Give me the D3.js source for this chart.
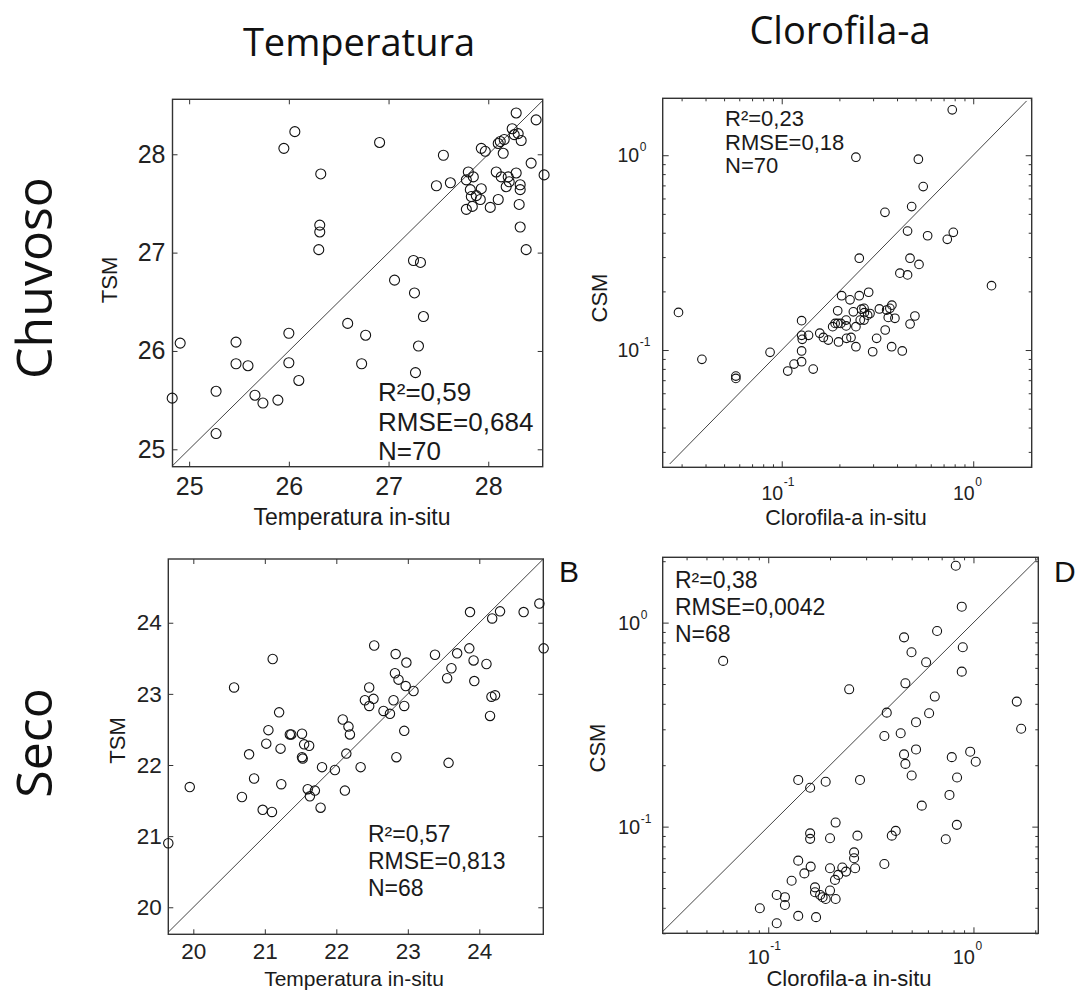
<!DOCTYPE html>
<html><head><meta charset="utf-8">
<script src="https://cdn.jsdelivr.net/npm/d3@7"></script>
<style>body{margin:0;background:#fff}svg{display:block}</style>
</head><body>
<svg id="chart" width="1079" height="992"></svg>
<script>
// ---------------- DATA ----------------
const columnTitles = ["Temperatura", "Clorofila-a"];
const rowTitles = ["Chuvoso", "Seco"];
const panelLetters = ["B", "D"];

// Chuvoso – Temperatura (in-situ vs TSM)
const chuvosoTempInsitu = [24.83,24.91,25.27,25.27,25.47,25.47,25.59,25.66,25.74,25.89,25.95,26.06,26.00,26.00,26.10,26.32,26.31,26.31,26.30,26.59,26.73,26.77,26.91,27.06,27.25,27.32,27.26,27.35,27.30,27.27,27.48,27.55,27.62,27.78,27.80,27.85,27.82,27.83,27.78,27.84,27.93,27.92,27.93,27.97,28.02,28.08,28.10,28.13,28.10,28.15,28.16,28.18,28.20,28.24,28.26,28.28,28.28,28.30,28.32,28.33,28.32,28.31,28.32,28.38,28.43,28.48,28.56,28.12,28.21,27.88];
const chuvosoTempTSM = [25.52,26.08,25.59,25.16,26.09,25.87,25.85,25.55,25.47,25.50,28.06,28.23,26.18,25.88,25.70,27.80,27.28,27.21,27.03,26.28,25.87,26.16,28.12,26.72,26.92,26.90,26.59,26.35,26.05,25.78,27.68,27.99,27.71,27.74,27.82,27.77,27.64,27.57,27.44,27.47,27.65,27.54,28.06,28.03,27.46,27.82,28.11,27.77,27.54,28.01,28.15,27.67,27.77,28.26,28.20,28.42,27.81,28.21,27.69,28.14,27.64,27.49,27.26,27.03,27.91,28.35,27.79,28.13,27.72,27.58];

// Chuvoso – Clorofila-a (in-situ vs CSM)
const chuvosoChlInsitu = [0.0289,0.0383,0.0576,0.0576,0.0869,0.1075,0.116,0.127,0.127,0.128,0.127,0.127,0.138,0.146,0.158,0.165,0.175,0.1845,0.196,0.196,0.198,0.2055,0.217,0.217,0.218,0.2273,0.230,0.2366,0.244,0.244,0.254,0.254,0.244,0.261,0.269,0.270,0.281,0.2844,0.289,0.2985,0.313,0.3235,0.346,0.347,0.353,0.360,0.367,0.375,0.376,0.390,0.414,0.426,0.454,0.454,0.4676,0.468,0.477,0.496,0.521,0.517,0.548,0.578,0.732,0.787,0.777,1.246,0.269,0.257,0.2035,0.190];
const chuvosoChlCSM = [0.156,0.0896,0.0735,0.0715,0.0973,0.078,0.0847,0.1415,0.119,0.1135,0.0989,0.0871,0.119,0.0798,0.122,0.116,0.1125,0.1318,0.159,0.137,0.110,0.190,0.1425,0.133,0.1148,0.181,0.116,0.157,0.1318,0.104,0.296,0.190,0.977,0.162,0.1425,0.1555,0.151,0.198,0.154,0.098,0.1148,0.1625,0.509,0.1267,0.1604,0.147,0.1637,0.104,0.170,0.1455,0.248,0.0989,0.408,0.243,0.296,0.136,0.545,0.1495,0.275,0.954,0.690,0.386,0.370,0.402,1.71,0.214,0.1637,0.1425,0.137,0.137];

// Seco – Temperatura
const secoTempInsitu = [19.65,19.95,20.57,20.68,20.78,20.85,20.97,21.10,21.02,21.05,21.11,21.20,21.22,21.23,21.35,21.37,21.52,21.55,21.62,21.52,21.53,21.60,21.63,21.70,21.78,21.80,21.98,22.09,22.17,22.19,22.14,22.12,22.34,22.40,22.46,22.46,22.52,22.53,22.66,22.75,22.80,22.82,22.83,22.87,22.84,22.95,22.95,22.97,22.98,23.08,23.38,23.55,23.57,23.61,23.69,23.86,23.87,23.92,23.93,24.10,24.15,24.17,24.22,24.18,24.29,24.62,24.84,24.90];
const secoTempTSM = [20.90,21.69,23.09,21.55,22.15,21.81,21.37,21.34,22.30,22.49,23.49,22.74,22.23,21.73,22.43,22.43,22.44,22.29,22.27,22.11,22.09,21.66,21.56,21.64,21.40,21.97,21.93,22.64,22.54,22.43,22.16,21.64,21.97,22.91,23.09,22.83,22.93,23.68,22.76,22.72,22.91,23.29,23.56,23.20,22.11,22.83,22.48,23.11,23.44,23.04,23.55,23.22,22.03,23.36,23.57,23.64,24.15,23.47,23.18,23.42,22.69,22.96,22.98,24.06,24.16,24.15,24.27,23.64];

// Seco – Clorofila-a
const secoChlInsitu = [0.0603,0.091,0.110,0.110,0.1206,0.1206,0.130,0.140,0.140,0.140,0.150,0.160,0.160,0.160,0.161,0.169,0.169,0.171,0.179,0.184,0.1905,0.1905,0.200,0.200,0.200,0.2115,0.213,0.213,0.2193,0.2296,0.2393,0.248,0.262,0.262,0.265,0.272,0.280,0.368,0.368,0.378,0.400,0.418,0.442,0.459,0.459,0.466,0.466,0.499,0.500,0.525,0.525,0.560,0.588,0.608,0.648,0.665,0.733,0.764,0.784,0.820,0.830,0.832,0.877,0.877,0.887,0.964,1.026,1.626,1.708];
const secoChlCSM = [0.649,0.0398,0.0462,0.0336,0.0451,0.0413,0.0543,0.1694,0.0681,0.0365,0.059,0.155,0.0927,0.0871,0.0637,0.0504,0.0477,0.036,0.0462,0.0451,0.166,0.0442,0.0625,0.0877,0.0486,0.0548,0.1047,0.0442,0.058,0.063,0.0602,0.471,0.0748,0.070,0.0625,0.0903,0.1694,0.0656,0.278,0.362,0.0903,0.0953,0.287,0.847,0.226,0.504,0.203,0.716,0.178,0.325,0.239,0.1267,0.639,0.3595,0.434,0.910,0.0867,0.143,0.219,1.90,0.102,0.174,1.197,0.575,0.757,0.233,0.208,0.410,0.302];

// Tick values
const tempTicksChuvoso = [25, 26, 27, 28];
const tempTicksSeco = [20, 21, 22, 23, 24];
const logMajorTicks = [0.1, 1];
const logTickExponents = ["-1", "0"];

// Axis domains
const domChuvosoTemp = [24.833, 28.546, 24.823, 28.559];
const domSecoTemp = [19.65, 24.895, 19.62, 24.896];
const domChuvosoChl = [0.0239, 2.02, 0.025, 1.96];
const domSecoChl = [0.0306, 2.07, 0.0300, 2.09];
const oneToOneChuvosoChl = [0.026, 1.9];

// Statistics text
const statsChuvosoTemp = ["R²=0,59", "RMSE=0,684", "N=70"];
const statsChuvosoChl = ["R²=0,23", "RMSE=0,18", "N=70"];
const statsSecoTemp = ["R²=0,57", "RMSE=0,813", "N=68"];
const statsSecoChl = ["R²=0,38", "RMSE=0,0042", "N=68"];

// Axis labels
const xLabelTemp = "Temperatura in-situ";
const xLabelChl = "Clorofila-a in-situ";
const yLabelTemp = "TSM";
const yLabelChl = "CSM";

// ---------------- DRAWING ----------------
const AX_FONT = "'Liberation Sans', Arial, Helvetica, sans-serif";
const TITLE_FONT = "'Open Sans', 'Noto Sans', sans-serif";
const svg = d3.select("#chart");
svg.append("rect").attr("width", 1079).attr("height", 992).attr("fill", "#fff");

const panels = [
  { xs: chuvosoTempInsitu, ys: chuvosoTempTSM, log: false, left: 172.5, top: 99.3, w: 370.2, h: 367.4,
    dom: domChuvosoTemp, ticks: tempTicksChuvoso, tickFont: 25, xPad: 11, yPad: 7, r: 5,
    stats: statsChuvosoTemp, statsX: 378, statsY: 401, statsFont: 26, statsGap: 29.5,
    xLabel: xLabelTemp, xLabelX: 352, xLabelY: 525, xLabelFont: 23,
    yLabel: yLabelTemp, yLabelX: 117, yLabelY: 280, yLabelFont: 22 },
  { xs: chuvosoChlInsitu, ys: chuvosoChlCSM, log: true, left: 662.7, top: 98.3, w: 369, h: 369,
    dom: domChuvosoChl, line: oneToOneChuvosoChl, tickFont: 19.5, xBase: 32.7, yGap: 23.5, r: 4.3,
    stats: statsChuvosoChl, statsX: 725, statsY: 126, statsFont: 22, statsGap: 23.5,
    xLabel: xLabelChl, xLabelX: 846, xLabelY: 525, xLabelFont: 21.5,
    yLabel: yLabelChl, yLabelX: 607, yLabelY: 298, yLabelFont: 22 },
  { xs: secoTempInsitu, ys: secoTempTSM, log: false, left: 168.3, top: 559, w: 375, h: 375.3,
    dom: domSecoTemp, ticks: tempTicksSeco, tickFont: 22.5, xPad: 9, yPad: 6.5, r: 4.7,
    stats: statsSecoTemp, statsX: 368, statsY: 841.5, statsFont: 23, statsGap: 27,
    xLabel: xLabelTemp, xLabelX: 354, xLabelY: 986, xLabelFont: 21,
    yLabel: yLabelTemp, yLabelX: 125, yLabelY: 740.5, yLabelFont: 22 },
  { xs: secoChlInsitu, ys: secoChlCSM, log: true, left: 662.7, top: 557.3, w: 375.6, h: 376,
    dom: domSecoChl, tickFont: 20, xBase: 30.5, yGap: 22.5, r: 4.5,
    stats: statsSecoChl, statsX: 675, statsY: 588, statsFont: 23, statsGap: 27,
    xLabel: xLabelChl, xLabelX: 849, xLabelY: 986, xLabelFont: 22,
    yLabel: yLabelChl, yLabelX: 605, yLabelY: 748, yLabelFont: 22 }
];

function styleAxis(sel, font) {
  sel.attr("font-family", AX_FONT).attr("font-size", font).attr("color", "#222");
  sel.select(".domain").remove();
  sel.selectAll(".tick line").attr("stroke", "#333").attr("stroke-width", 1);
}

const intFmt = d3.format("d");

panels.forEach(p => {
  const g = svg.append("g").attr("transform", `translate(${p.left},${p.top})`);
  const mk = p.log ? d3.scaleLog : d3.scaleLinear;
  const x = mk().domain([p.dom[0], p.dom[1]]).range([0, p.w]);
  const y = mk().domain([p.dom[2], p.dom[3]]).range([p.h, 0]);

  if (!p.log) {
    g.append("g").attr("transform", `translate(0,${p.h})`)
      .call(d3.axisBottom(x).tickValues(p.ticks).tickSize(-5).tickPadding(p.xPad).tickFormat(intFmt))
      .call(s => styleAxis(s, p.tickFont));
    g.append("g")
      .call(d3.axisTop(x).tickValues(p.ticks).tickSize(-5).tickFormat(""))
      .call(s => styleAxis(s, p.tickFont));
    g.append("g")
      .call(d3.axisLeft(y).tickValues(p.ticks).tickSize(-5).tickPadding(p.yPad).tickFormat(intFmt))
      .call(s => styleAxis(s, p.tickFont));
    g.append("g").attr("transform", `translate(${p.w},0)`)
      .call(d3.axisRight(y).tickValues(p.ticks).tickSize(-5).tickFormat(""))
      .call(s => styleAxis(s, p.tickFont));
  } else {
    const minorX = x.ticks().filter(t => !logMajorTicks.some(m => Math.abs(m - t) < 1e-9));
    const minorY = y.ticks().filter(t => !logMajorTicks.some(m => Math.abs(m - t) < 1e-9));
    [[d3.axisBottom, x, minorX, `translate(0,${p.h})`], [d3.axisTop, x, minorX, null],
     [d3.axisLeft, y, minorY, null], [d3.axisRight, y, minorY, `translate(${p.w},0)`]].forEach(([fn, sc, minor, tr]) => {
      const a1 = g.append("g"); if (tr) a1.attr("transform", tr);
      a1.call(fn(sc).tickValues(minor).tickSize(-3).tickFormat("")).call(s => styleAxis(s, p.tickFont));
      const a2 = g.append("g"); if (tr) a2.attr("transform", tr);
      a2.call(fn(sc).tickValues(logMajorTicks).tickSize(-6).tickFormat("")).call(s => styleAxis(s, p.tickFont));
    });
    logMajorTicks.forEach((t, i) => {
      const tx = x(t);
      const by = p.h + p.xBase;
      g.append("text").attr("x", tx + 1.5).attr("y", by).attr("text-anchor", "end")
        .attr("font-family", AX_FONT).attr("font-size", p.tickFont).attr("fill", "#222").text("10");
      g.append("text").attr("x", tx + 2).attr("y", by - 14).attr("text-anchor", "start")
        .attr("font-family", AX_FONT).attr("font-size", 12).attr("fill", "#222").text(logTickExponents[i]);
      const ty = y(t);
      g.append("text").attr("x", -p.yGap).attr("y", ty + 7).attr("text-anchor", "end")
        .attr("font-family", AX_FONT).attr("font-size", p.tickFont).attr("fill", "#222").text("10");
      g.append("text").attr("x", -p.yGap + 0.5).attr("y", ty - 4).attr("text-anchor", "start")
        .attr("font-family", AX_FONT).attr("font-size", 12).attr("fill", "#222").text(logTickExponents[i]);
    });
  }

  // 1:1 line
  const l0 = p.line ? p.line[0] : Math.max(p.dom[0], p.dom[2]);
  const l1 = p.line ? p.line[1] : Math.min(p.dom[1], p.dom[3]);
  g.append("line").attr("x1", x(l0)).attr("y1", y(l0)).attr("x2", x(l1)).attr("y2", y(l1))
    .attr("stroke", "#444").attr("stroke-width", 1);

  // frame
  g.append("rect").attr("width", p.w).attr("height", p.h).attr("fill", "none")
    .attr("stroke", "#333").attr("stroke-width", 1.4);

  // points
  g.selectAll("circle.pt").data(d3.zip(p.xs, p.ys)).join("circle").attr("class", "pt")
    .attr("cx", d => x(d[0])).attr("cy", d => y(d[1])).attr("r", p.r)
    .attr("fill", "none").attr("stroke", "#111").attr("stroke-width", 1.1);

  // stats
  p.stats.forEach((s, i) => {
    svg.append("text").attr("x", p.statsX).attr("y", p.statsY + i * p.statsGap)
      .attr("font-family", AX_FONT).attr("font-size", p.statsFont).attr("fill", "#1a1a1a").text(s);
  });

  // axis labels
  svg.append("text").attr("x", p.xLabelX).attr("y", p.xLabelY).attr("text-anchor", "middle")
    .attr("font-family", AX_FONT).attr("font-size", p.xLabelFont).attr("fill", "#1a1a1a").text(p.xLabel);
  svg.append("text").attr("transform", `translate(${p.yLabelX},${p.yLabelY}) rotate(-90)`)
    .attr("text-anchor", "middle").attr("font-family", AX_FONT).attr("font-size", p.yLabelFont)
    .attr("fill", "#1a1a1a").text(p.yLabel);
});

// column titles
svg.append("text").attr("x", 359).attr("y", 56).attr("text-anchor", "middle")
  .attr("font-family", TITLE_FONT).attr("font-size", 38).attr("fill", "#111").text(columnTitles[0]);
svg.append("text").attr("x", 840).attr("y", 44).attr("text-anchor", "middle")
  .attr("font-family", TITLE_FONT).attr("font-size", 38).attr("fill", "#111").text(columnTitles[1]);

// row titles
svg.append("text").attr("transform", "translate(52,278) rotate(-90)").attr("text-anchor", "middle")
  .attr("font-family", TITLE_FONT).attr("font-size", 50).attr("fill", "#111").text(rowTitles[0]);
svg.append("text").attr("transform", "translate(52,743) rotate(-90)").attr("text-anchor", "middle")
  .attr("font-family", TITLE_FONT).attr("font-size", 50).attr("fill", "#111").text(rowTitles[1]);

// panel letters
svg.append("text").attr("x", 559).attr("y", 582).attr("font-family", AX_FONT)
  .attr("font-size", 30).attr("fill", "#111").text(panelLetters[0]);
svg.append("text").attr("x", 1054).attr("y", 582).attr("font-family", AX_FONT)
  .attr("font-size", 30).attr("fill", "#111").text(panelLetters[1]);
</script>
</body></html>
